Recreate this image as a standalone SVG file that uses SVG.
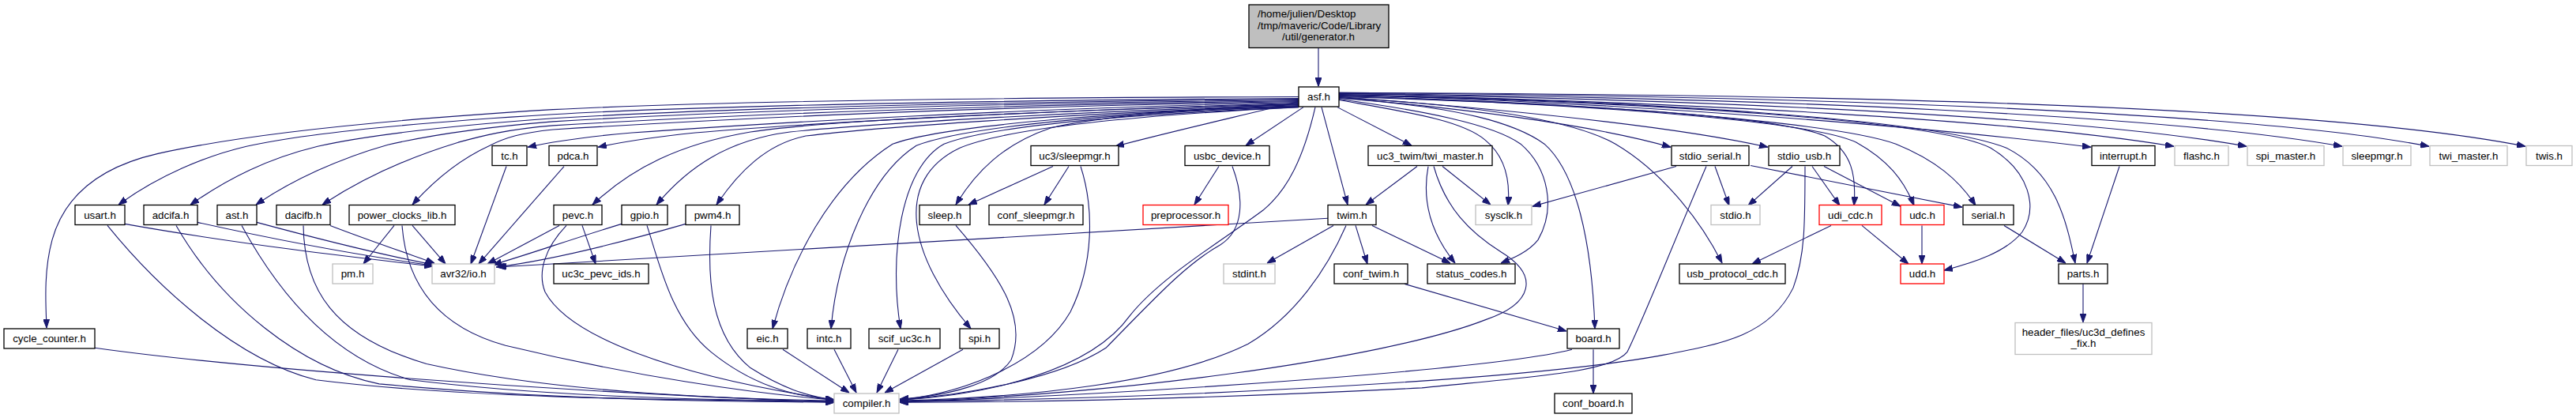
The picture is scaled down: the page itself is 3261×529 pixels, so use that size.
<svg xmlns="http://www.w3.org/2000/svg" width="3261" height="529" viewBox="0 0 3261 529">
<style>
text{font-family:"Liberation Sans",Arial,sans-serif;font-size:13.33px;text-anchor:middle;fill:#000}
.n rect{fill:#fff;stroke:#000;stroke-width:1.3}
.g rect{fill:#fff;stroke:#bfbfbf;stroke-width:1.3}
.r rect{fill:#fff;stroke:#ff0000;stroke-width:1.3}
.e path{fill:none;stroke:#191970;stroke-width:1.1;marker-end:url(#a)}
</style>
<defs>
<marker id="a" markerWidth="11" markerHeight="8" refX="11" refY="4" orient="auto" markerUnits="userSpaceOnUse"><path d="M0,0 L11,4 L0,8 z" fill="#191970" stroke="#191970" stroke-width="1"/></marker>
</defs>
<rect width="3261" height="529" fill="#fff"/>
<g class="e" id="edges" transform="scale(1 1.01215)">
<path d="M1669,60 L1669,108"/>
<path d="M1644,121 C1200,122 900,127 700,137 C450,152 300,170 200,192 C120,210 80,250 66,300 C55,340 58,380 59,410"/>
<path d="M1644,123 C1200,126 900,132 700,143 C500,155 380,168 312,183 C260,195 200,220 150,256"/>
<path d="M1644,124 C1200,128 900,136 700,148 C560,158 460,170 402,183 C340,198 290,222 241,256"/>
<path d="M1644,125 C1200,130 900,140 700,152 C600,160 540,170 491,181 C430,198 370,225 324,256"/>
<path d="M1644,126 C1200,132 900,145 700,157 C640,162 610,170 580,178 C520,196 460,222 408,256"/>
<path d="M1644,127 C1200,134 900,150 700,162 C660,166 640,172 620,182 C580,200 550,225 522,256"/>
<path d="M1644,128 C1300,135 950,155 800,166 C740,171 700,177 668,184"/>
<path d="M1644,129 C1350,137 1000,155 880,166 C830,171 790,177 757,184"/>
<path d="M1644,130 C1350,138 1050,150 950,165 C860,180 800,210 750,256"/>
<path d="M1644,131 C1350,140 1100,155 1000,165 C920,175 870,210 831,256"/>
<path d="M1644,132 C1350,142 1100,160 1020,170 C970,180 935,215 907,256"/>
<path d="M1644,133 C1450,138 1200,155 1130,180 C1050,230 1000,330 978,411"/>
<path d="M1644,133 C1450,140 1230,155 1160,182 C1100,220 1060,320 1052,411"/>
<path d="M1644,134 C1450,142 1260,155 1195,180 C1140,210 1125,320 1140,411"/>
<path d="M1644,134 C1460,143 1280,158 1215,185 C1130,225 1150,320 1229,411"/>
<path d="M1644,130 C1500,135 1380,148 1330,160 C1270,180 1235,215 1210,256"/>
<path d="M1644,127 C1570,145 1480,165 1412,183"/>
<path d="M1650,134 L1577,182"/>
<path d="M1665,134 C1650,198 1630,237 1600,262 C1540,306 1470,346 1430,395 C1380,464 1250,494 1139,500"/>
<path d="M1673,134 L1706,256"/>
<path d="M1693,134 L1787,182"/>
<path d="M1695,125 C1780,140 1850,150 1880,175 C1905,195 1912,225 1909,257"/>
<path d="M1695,124 C1800,138 1890,155 1925,180 C1960,210 1970,260 1947,300 C1935,315 1915,323 1900,329"/>
<path d="M1695,123 C1850,133 1920,155 1955,180 C1995,215 2015,300 2019,411"/>
<path d="M1695,122 C1900,133 2000,155 2045,180 C2100,212 2150,270 2180,329"/>
<path d="M1695,122 C1900,140 2030,160 2115,184"/>
<path d="M1695,121 C1950,140 2130,160 2238,184"/>
<path d="M1695,121 C2000,130 2250,145 2310,170 C2345,190 2350,220 2347,257"/>
<path d="M1695,120 C2000,130 2290,150 2350,178 C2390,200 2410,225 2423,257"/>
<path d="M1695,120 C2050,130 2330,155 2400,180 C2450,200 2480,225 2501,257"/>
<path d="M1695,119 C2100,128 2450,150 2520,185 C2570,215 2580,260 2560,290 C2540,315 2500,328 2461,338"/>
<path d="M1695,119 C2100,126 2450,150 2540,185 C2600,215 2615,270 2627,329"/>
<path d="M1695,118 C2100,130 2450,160 2647,184"/>
<path d="M1695,118 C2150,128 2550,150 2752,183"/>
<path d="M1695,117 C2200,125 2650,148 2844,183"/>
<path d="M1695,117 C2250,122 2750,145 2965,183"/>
<path d="M1695,116 C2300,120 2850,140 3075,183"/>
<path d="M1695,116 C2400,118 2950,135 3197,183"/>
<path d="M158,280 C300,305 450,322 548,333"/>
<path d="M250,278 C350,300 460,320 548,332"/>
<path d="M325,278 C400,298 480,318 549,331"/>
<path d="M418,282 C460,298 510,315 550,329"/>
<path d="M499,282 L460,330"/>
<path d="M522,282 L564,330"/>
<path d="M641,208 L596,330"/>
<path d="M714,208 L606,330"/>
<path d="M708,282 L617,330"/>
<path d="M787,280 C720,300 670,318 624,331"/>
<path d="M868,280 C780,305 700,325 628,334"/>
<path d="M1681,273 L630,334"/>
<path d="M737,282 L754,330"/>
<path d="M717,282 C690,310 680,340 690,365 C720,420 850,470 1056,500"/>
<path d="M819,282 C835,330 850,400 900,440 C950,480 1000,495 1056,500"/>
<path d="M900,282 C895,350 900,420 950,460 C990,485 1020,495 1056,500"/>
<path d="M136,282 C200,360 300,450 400,475 C600,500 900,500 1056,502"/>
<path d="M223,282 C280,380 380,460 480,480 C700,500 900,502 1056,503"/>
<path d="M306,282 C360,380 430,450 520,475 C700,497 900,500 1056,502"/>
<path d="M384,282 C385,360 420,420 540,455 C700,490 900,498 1056,501"/>
<path d="M509,282 C515,360 560,410 640,432 C800,470 950,492 1056,500"/>
<path d="M120,435 C300,460 700,490 1056,503"/>
<path d="M991,437 L1075,491"/>
<path d="M1056,437 L1084,491"/>
<path d="M1137,437 L1110,491"/>
<path d="M1219,437 L1120,491"/>
<path d="M1210,282 C1270,350 1300,400 1280,450 C1260,480 1200,495 1139,499"/>
<path d="M1333,208 L1226,256"/>
<path d="M1353,208 L1322,256"/>
<path d="M1368,208 C1385,260 1385,330 1355,390 C1320,450 1230,490 1139,500"/>
<path d="M1543,208 L1512,256"/>
<path d="M1560,208 C1575,247 1575,287 1545,306 C1500,331 1460,375 1400,435 C1340,474 1220,494 1139,500"/>
<path d="M1688,282 L1604,329"/>
<path d="M1716,282 L1731,330"/>
<path d="M1737,282 L1836,329"/>
<path d="M1704,282 C1680,336 1640,395 1580,430 C1480,479 1300,497 1139,501"/>
<path d="M1794,208 L1729,256"/>
<path d="M1808,208 C1800,250 1810,290 1842,329"/>
<path d="M1826,208 L1887,256"/>
<path d="M1815,208 C1830,260 1860,290 1900,315 C1950,345 1940,380 1880,400 C1750,450 1400,495 1139,502"/>
<path d="M1778,355 L1983,414"/>
<path d="M2017,437 L2017,492"/>
<path d="M1990,437 C1900,460 1500,490 1139,503"/>
<path d="M2122,208 L1940,258"/>
<path d="M2171,208 L2189,257"/>
<path d="M2216,207 L2484,259"/>
<path d="M2160,208 C2120,300 2080,400 2060,440 C2040,465 1950,470 1800,485 C1500,500 1300,503 1139,503"/>
<path d="M2269,208 L2213,257"/>
<path d="M2294,208 L2329,257"/>
<path d="M2309,208 L2406,258"/>
<path d="M2285,208 C2285,280 2285,320 2270,360 C2240,420 2180,430 2100,445 C1900,480 1400,500 1139,502"/>
<path d="M2318,282 L2218,330"/>
<path d="M2357,282 L2416,330"/>
<path d="M2433,282 L2433,330"/>
<path d="M2537,282 L2615,329"/>
<path d="M2683,208 L2642,329"/>
<path d="M2637,355 L2637,403"/>
</g>
<g id="generator"><rect x="1581" y="6" width="177" height="54.5" fill="#bfbfbf" stroke="#000" stroke-width="1.3"/><text x="1592" y="21.5" style="text-anchor:start">/home/julien/Desktop</text><text x="1592" y="37" style="text-anchor:start">/tmp/maveric/Code/Library</text><text x="1669" y="51">/util/generator.h</text></g>
<g id="asf" class="n"><rect x="1644" y="110" width="51" height="25"/><text x="1669.5" y="126.5">asf.h</text></g>
<g id="tc" class="n"><rect x="623" y="184.5" width="44" height="25"/><text x="645" y="201.5">tc.h</text></g>
<g id="pdca" class="n"><rect x="695" y="184.5" width="61" height="25"/><text x="725.5" y="201.5">pdca.h</text></g>
<g id="uc3sleepmgr" class="n"><rect x="1305" y="184.5" width="111" height="25"/><text x="1360.5" y="201.5">uc3/sleepmgr.h</text></g>
<g id="usbc_device" class="n"><rect x="1500" y="184.5" width="107" height="25"/><text x="1553.5" y="201.5">usbc_device.h</text></g>
<g id="uc3_twi_master" class="n"><rect x="1732" y="184.5" width="157" height="25"/><text x="1810.5" y="201.5">uc3_twim/twi_master.h</text></g>
<g id="stdio_serial" class="n"><rect x="2116" y="184.5" width="98" height="25"/><text x="2165" y="201.5">stdio_serial.h</text></g>
<g id="stdio_usb" class="n"><rect x="2239" y="184.5" width="90" height="25"/><text x="2284" y="201.5">stdio_usb.h</text></g>
<g id="interrupt" class="n"><rect x="2648" y="184.5" width="80" height="25"/><text x="2688" y="201.5">interrupt.h</text></g>
<g id="flashc" class="g"><rect x="2753" y="184.5" width="68" height="25"/><text x="2787" y="201.5">flashc.h</text></g>
<g id="spi_master" class="g"><rect x="2845" y="184.5" width="97" height="25"/><text x="2893.5" y="201.5">spi_master.h</text></g>
<g id="sleepmgr" class="g"><rect x="2966" y="184.5" width="86" height="25"/><text x="3009" y="201.5">sleepmgr.h</text></g>
<g id="twi_master" class="g"><rect x="3076" y="184.5" width="98" height="25"/><text x="3125" y="201.5">twi_master.h</text></g>
<g id="twis" class="g"><rect x="3198" y="184.5" width="58" height="25"/><text x="3227" y="201.5">twis.h</text></g>
<g id="usart" class="n"><rect x="95" y="259.5" width="63" height="25"/><text x="126.5" y="276.5">usart.h</text></g>
<g id="adcifa" class="n"><rect x="182" y="259.5" width="68" height="25"/><text x="216" y="276.5">adcifa.h</text></g>
<g id="ast" class="n"><rect x="275" y="259.5" width="50" height="25"/><text x="300" y="276.5">ast.h</text></g>
<g id="dacifb" class="n"><rect x="350" y="259.5" width="68" height="25"/><text x="384" y="276.5">dacifb.h</text></g>
<g id="power_clocks_lib" class="n"><rect x="442" y="259.5" width="134" height="25"/><text x="509" y="276.5">power_clocks_lib.h</text></g>
<g id="pevc" class="n"><rect x="701" y="259.5" width="61" height="25"/><text x="731.5" y="276.5">pevc.h</text></g>
<g id="gpio" class="n"><rect x="787" y="259.5" width="58" height="25"/><text x="816" y="276.5">gpio.h</text></g>
<g id="pwm4" class="n"><rect x="868" y="259.5" width="68" height="25"/><text x="902" y="276.5">pwm4.h</text></g>
<g id="sleep" class="n"><rect x="1164" y="259.5" width="64" height="25"/><text x="1196" y="276.5">sleep.h</text></g>
<g id="conf_sleepmgr" class="n"><rect x="1252" y="259.5" width="119" height="25"/><text x="1311.5" y="276.5">conf_sleepmgr.h</text></g>
<g id="preprocessor" class="r"><rect x="1447" y="259.5" width="108" height="25"/><text x="1501" y="276.5">preprocessor.h</text></g>
<g id="twim" class="n"><rect x="1681" y="259.5" width="61" height="25"/><text x="1711.5" y="276.5">twim.h</text></g>
<g id="sysclk" class="g"><rect x="1868" y="259.5" width="71" height="25"/><text x="1903.5" y="276.5">sysclk.h</text></g>
<g id="stdio" class="g"><rect x="2166" y="259.5" width="62" height="25"/><text x="2197" y="276.5">stdio.h</text></g>
<g id="udi_cdc" class="r"><rect x="2303" y="259.5" width="79" height="25"/><text x="2342.5" y="276.5">udi_cdc.h</text></g>
<g id="udc" class="r"><rect x="2406" y="259.5" width="55" height="25"/><text x="2433.5" y="276.5">udc.h</text></g>
<g id="serial" class="n"><rect x="2485" y="259.5" width="64" height="25"/><text x="2517" y="276.5">serial.h</text></g>
<g id="pm" class="g"><rect x="421" y="334" width="51" height="25"/><text x="446.5" y="351">pm.h</text></g>
<g id="avr32io" class="g"><rect x="547" y="334" width="79" height="25"/><text x="586.5" y="351">avr32/io.h</text></g>
<g id="uc3c_pevc_ids" class="n"><rect x="701" y="334" width="120" height="25"/><text x="761" y="351">uc3c_pevc_ids.h</text></g>
<g id="stdint" class="g"><rect x="1549" y="334" width="65" height="25"/><text x="1581.5" y="351">stdint.h</text></g>
<g id="conf_twim" class="n"><rect x="1689" y="334" width="93" height="25"/><text x="1735.5" y="351">conf_twim.h</text></g>
<g id="status_codes" class="n"><rect x="1807" y="334" width="111" height="25"/><text x="1862.5" y="351">status_codes.h</text></g>
<g id="usb_protocol_cdc" class="n"><rect x="2126" y="334" width="134" height="25"/><text x="2193" y="351">usb_protocol_cdc.h</text></g>
<g id="udd" class="r"><rect x="2406" y="334" width="55" height="25"/><text x="2433.5" y="351">udd.h</text></g>
<g id="parts" class="n"><rect x="2606" y="334" width="62" height="25"/><text x="2637" y="351">parts.h</text></g>
<g id="cycle_counter" class="n"><rect x="5" y="416" width="115" height="25"/><text x="62.5" y="433">cycle_counter.h</text></g>
<g id="eic" class="n"><rect x="946" y="416" width="51" height="25"/><text x="971.5" y="433">eic.h</text></g>
<g id="intc" class="n"><rect x="1022" y="416" width="55" height="25"/><text x="1049.5" y="433">intc.h</text></g>
<g id="scif_uc3c" class="n"><rect x="1100" y="416" width="90" height="25"/><text x="1145" y="433">scif_uc3c.h</text></g>
<g id="spi" class="n"><rect x="1215" y="416" width="50" height="25"/><text x="1240" y="433">spi.h</text></g>
<g id="board" class="n"><rect x="1984" y="416" width="66" height="25"/><text x="2017" y="433">board.h</text></g>
<g id="header_defines" class="g"><rect x="2551" y="408.5" width="173" height="40"/><text x="2637.5" y="425">header_files/uc3d_defines</text><text x="2637.5" y="438.5">_fix.h</text></g>
<g id="compiler" class="g"><rect x="1056" y="498" width="82" height="25"/><text x="1097" y="515">compiler.h</text></g>
<g id="conf_board" class="n"><rect x="1968" y="498" width="98" height="25"/><text x="2017" y="515">conf_board.h</text></g>
</svg>
